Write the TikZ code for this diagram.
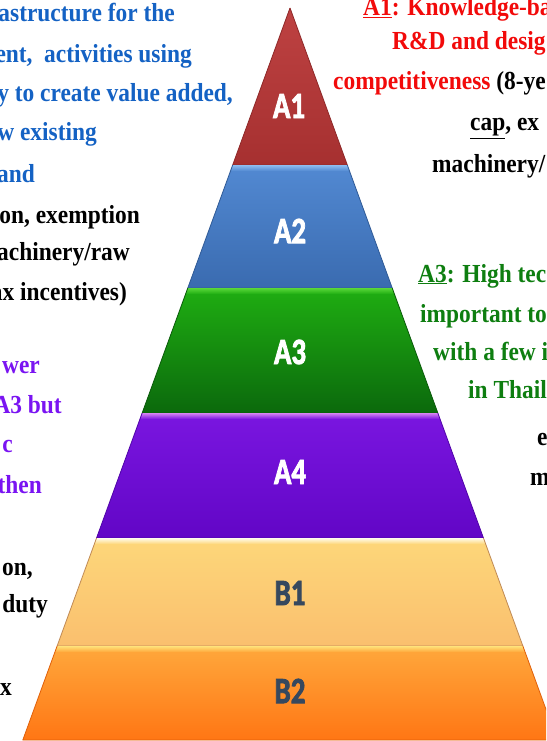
\documentclass[tikz,border=0pt]{standalone}
\usepackage{fontspec}
\setmainfont{Liberation Serif}
\newfontfamily\tierfont{Carlito}[BoldFeatures={FakeBold=2.5}]

% tier colours: top, bottom, highlight, edge
\definecolor{aOneTop}{HTML}{BE4242}
\definecolor{aOneBot}{HTML}{A63030}
\definecolor{aOneHl}{HTML}{BE4242}
\definecolor{aOneEdge}{HTML}{8E2828}
\definecolor{aTwoTop}{HTML}{5289D2}
\definecolor{aTwoBot}{HTML}{3A6BB0}
\definecolor{aTwoHl}{HTML}{8FBDF0}
\definecolor{aTwoEdge}{HTML}{2F5A96}
\definecolor{aThreeTop}{HTML}{1FAE12}
\definecolor{aThreeBot}{HTML}{0B690C}
\definecolor{aThreeHl}{HTML}{5AD83A}
\definecolor{aThreeEdge}{HTML}{0A5A0A}
\definecolor{aFourTop}{HTML}{7A16E0}
\definecolor{aFourBot}{HTML}{6206C6}
\definecolor{aFourHl}{HTML}{D886F2}
\definecolor{aFourEdge}{HTML}{5004A8}
\definecolor{bOneTop}{HTML}{FDD77A}
\definecolor{bOneBot}{HTML}{FABF6E}
\definecolor{bOneHl}{HTML}{FFFCEE}
\definecolor{bOneEdge}{HTML}{C08A55}
\definecolor{bTwoTop}{HTML}{FFA83C}
\definecolor{bTwoBot}{HTML}{FF7614}
\definecolor{bTwoHl}{HTML}{FFE27A}
\definecolor{bTwoEdge}{HTML}{E0600A}
% text colours
\definecolor{txtBlue}{HTML}{1462C4}
\definecolor{txtRed}{HTML}{F20A0A}
\definecolor{txtGreen}{HTML}{0E7E10}
\definecolor{txtPurple}{HTML}{7A14F2}
\definecolor{tierDark}{HTML}{36485E}

\tikzset{
  note/.style={inner sep=0pt, font=\fontsize{26}{30}\selectfont\bfseries},
  notel/.style={note, anchor=base east},
  noter/.style={note, anchor=base west},
  tier/.style={inner sep=0pt, anchor=center, font=\tierfont\fontsize{37}{40}\selectfont\bfseries},
}
\newcommand\nw[1]{\scalebox{0.9}[1]{#1}}
\newcommand\tw[1]{\scalebox{0.78}[1]{#1}}

% one tier of the pyramid: #1 top y, #2 bottom y, #3 top colour,
% #4 bottom colour, #5 highlight colour, #6 edge colour
\newcommand\pyrlayer[6]{%
  \pgfmathsetmacro\lyrWa{0.365*(#1-8)}%
  \pgfmathsetmacro\lyrWb{0.365*(#2-8)}%
  \pgfmathsetmacro\lyrYc{#1+6}%
  \pgfmathsetmacro\lyrWc{0.365*(\lyrYc-8)}%
  \shade[top color=#3,bottom color=#4]
    (290-\lyrWa,#1) -- (290+\lyrWa,#1) -- (290+\lyrWb,#2) -- (290-\lyrWb,#2) -- cycle;
  \shade[top color=#5,bottom color=#3]
    (290-\lyrWa,#1) -- (290+\lyrWa,#1) -- (290+\lyrWc,\lyrYc) -- (290-\lyrWc,\lyrYc) -- cycle;
  \draw[#6, line width=0.8pt, line join=round]
    (290-\lyrWa,#1) -- (290-\lyrWb,#2) -- (290+\lyrWb,#2) -- (290+\lyrWa,#1);
}

\begin{document}
\begin{tikzpicture}[x=1pt,y=-1pt]
\useasboundingbox (0,0) rectangle (546,741);
\fill[white] (0,0) rectangle (546,741);
\begin{scope}
\clip (0,0) rectangle (546,741);

% pyramid tiers
\pyrlayer{8}{165}{aOneTop}{aOneBot}{aOneHl}{aOneEdge}
\pyrlayer{165}{288}{aTwoTop}{aTwoBot}{aTwoHl}{aTwoEdge}
\pyrlayer{288}{413}{aThreeTop}{aThreeBot}{aThreeHl}{aThreeEdge}
\pyrlayer{413}{538}{aFourTop}{aFourBot}{aFourHl}{aFourEdge}
\pyrlayer{538}{646}{bOneTop}{bOneBot}{bOneHl}{bOneEdge}
\pyrlayer{646}{740}{bTwoTop}{bTwoBot}{bTwoHl}{bTwoEdge}

% tier labels
\node[tier, text=white] (lA1) at (289,106) {\tw{A1}};
\node[tier, text=white] (lA2) at (290,231) {\tw{A2}};
\node[tier, text=white] (lA3) at (290,352) {\tw{A3}};
\node[tier, text=white] (lA4) at (290,472) {\tw{A4}};
\node[tier, text=tierDark] (lB1) at (290,593) {\tw{B1}};
\node[tier, text=tierDark] (lB2) at (290,691) {\tw{B2}};

% left-hand notes
\node[notel, text=txtBlue] (l1) at (175,22) {\nw{astructure for the}};
\node[notel, text=txtBlue] (l2) at (192,63) {\nw{ent,\ \ activities using}};
\node[notel, text=txtBlue] (l3) at (233,102) {\nw{y to create value added,}};
\node[notel, text=txtBlue] (l4) at (97,140) {\nw{w existing}};
\node[notel, text=txtBlue] (l5) at (35,182) {\nw{and}};
\node[notel] (l6) at (140,223) {\nw{on, exemption}};
\node[notel] (l7) at (130,260) {\nw{achinery/raw}};
\node[notel] (l8) at (127,300) {\nw{ax incentives)}};
\node[notel, text=txtPurple] (l9) at (40,373) {\nw{wer}};
\node[notel, text=txtPurple] (l10) at (62,413) {\nw{A3 but}};
\node[notel, text=txtPurple] (l11) at (13,452) {\nw{c}};
\node[notel, text=txtPurple] (l12) at (42,493) {\nw{then}};
\node[notel] (l13) at (33,575) {\nw{on,}};
\node[notel] (l14) at (48,612) {\nw{duty}};
\node[notel] (l15) at (12,695) {\nw{x}};

% right-hand notes
\node[noter, text=txtRed] (r1) at (363,16) {\nw{\underline{A1}: Knowledge-ba}};
\node[noter, text=txtRed] (r2) at (392,50) {\nw{R\&D and desig}};
\node[noter] (r3) at (333,90) {\nw{\textcolor{txtRed}{competitiveness} (8-ye}};
\node[noter] (r4) at (470,131) {\nw{\underline{cap}, ex}};
\node[noter] (r5) at (432,172) {\nw{machinery/}};
\node[noter, text=txtGreen] (r6) at (418,282) {\nw{\underline{A3}: High tec}};
\node[noter, text=txtGreen] (r7) at (420,322) {\nw{important to}};
\node[noter, text=txtGreen] (r8) at (433,360) {\nw{with a few i}};
\node[noter, text=txtGreen] (r9) at (468,398) {\nw{in Thail}};
\node[noter] (r10) at (537,445) {\nw{e}};
\node[noter] (r11) at (530,485) {\nw{m}};
\end{scope}
\end{tikzpicture}
\end{document}
